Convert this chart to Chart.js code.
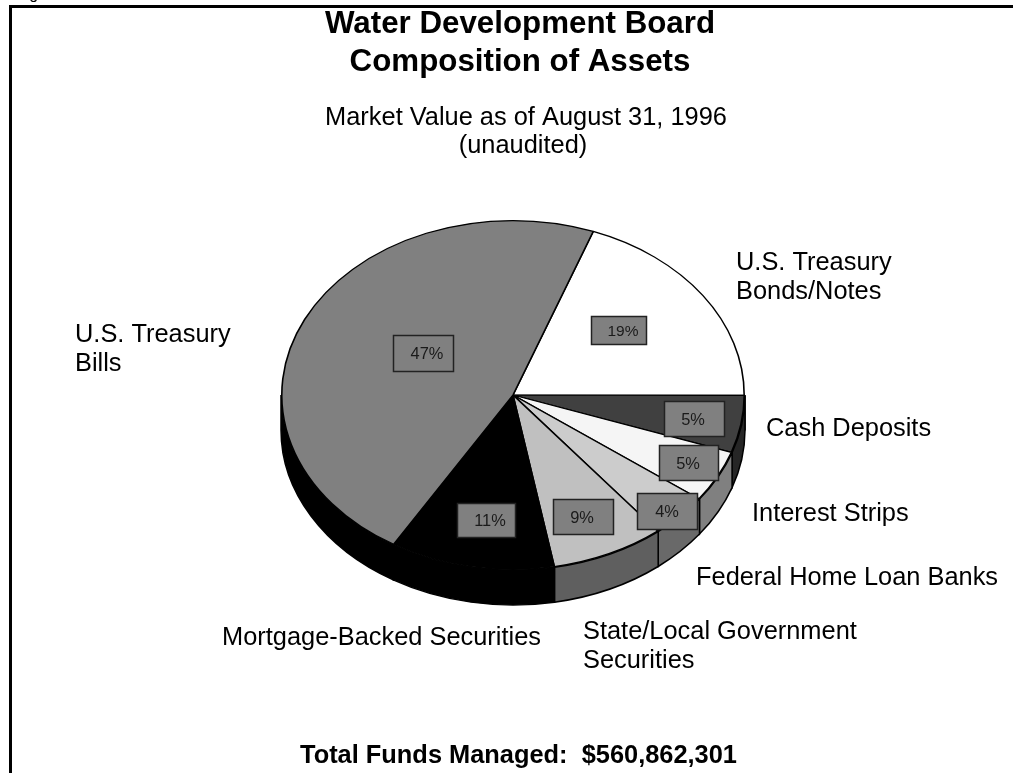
<!DOCTYPE html>
<html>
<head>
<meta charset="utf-8">
<style>html,body{margin:0;padding:0;background:#fff;overflow:hidden}canvas{display:block}</style>
<script src="https://cdn.jsdelivr.net/npm/chart.js@4/dist/chart.umd.min.js"></script>
</head>
<body>
<canvas id="c" width="1013" height="773"></canvas>
<script>
const categories = ['U.S. Treasury Bonds/Notes','Cash Deposits','Interest Strips','Federal Home Loan Banks','State/Local Government Securities','Mortgage-Backed Securities','U.S. Treasury Bills'];
const sliceShares = [19.4,5.3,4.8,4.1,7.9,11.5,47.0];
const printedPercents = ['19%','5%','5%','4%','9%','11%','47%'];
const topColors = ['#ffffff','#404040','#f5f5f5','#cccccc','#c0c0c0','#000000','#808080'];
const wallColors = ['#c0c0c0','#262626','#808080','#696969','#5f5f5f','#000000','#000000'];
const titleLines = ['Water Development Board','Composition of Assets'];
const subtitleLines = ['Market Value as of August 31, 1996','(unaudited)'];
const footerText = 'Total Funds Managed:  $560,862,301';

const CX=513, CY=395, RX=232, RY=175, DEPTH=35, FONT='"Liberation Sans", Arial, sans-serif';
// x0,y0,x1,y1 of each percent box, text centre x, font size (same order as categories)
const percentBoxes = [[591,316,647,345,623,15.5],[664,401,725,437,693,16.4],[659,445,719,481,688,16.4],[637,493,698,530,667,16.4],[553,499,614,535,582,16.4],[457,503,516,538,490,16.4],[393,335,454,372,427,16.4]];
const sliceLabels = [
 [736,270,'U.S. Treasury'],[736,299,'Bonds/Notes'],[75,342,'U.S. Treasury'],[75,371,'Bills'],
 [766,436,'Cash Deposits'],[752,521,'Interest Strips'],[696,585,'Federal Home Loan Banks'],
 [583,639,'State/Local Government'],[583,668,'Securities'],[222,645,'Mortgage-Backed Securities']];

const piePlugin = {
  id:'pie3d',
  beforeDatasetsDraw(chart){
    const ctx=chart.ctx, arcs=chart.getDatasetMeta(0).data, T=Math.PI*2;
    ctx.save();
    ctx.fillStyle='#000';
    ctx.fillRect(9,5,1004,3);
    ctx.fillRect(9,5,3,768);
    ctx.font='16px '+FONT; ctx.textAlign='left'; ctx.textBaseline='alphabetic';
    ctx.fillText('Figure',16,-1);
    ctx.strokeStyle='#000'; ctx.lineWidth=1.5;
    arcs.forEach((a,i)=>{
      const p=a.getProps(['startAngle','endAngle']);
      for(let k=-1;k<=2;k++){
        const s=Math.max(p.startAngle,k*T), e=Math.min(p.endAngle,k*T+Math.PI);
        if(e<=s) continue;
        ctx.beginPath();
        ctx.ellipse(CX,CY,RX,RY,0,s,e);
        ctx.ellipse(CX,CY+DEPTH,RX,RY,0,e,s,true);
        ctx.closePath();
        ctx.fillStyle=wallColors[i]; ctx.fill(); ctx.stroke();
      }
    });
    ctx.restore();
    ctx.save();
    ctx.translate(0,CY); ctx.scale(1,RY/RX); ctx.translate(0,-CY);
  },
  afterDatasetsDraw(chart){
    const ctx=chart.ctx;
    ctx.restore();
    ctx.save();
    ctx.textBaseline='alphabetic'; ctx.textAlign='center'; ctx.fillStyle='#000';
    ctx.font='bold 31.3px '+FONT;
    ctx.fillText(titleLines[0],520,33); ctx.fillText(titleLines[1],520,71);
    ctx.font='25.4px '+FONT;
    ctx.fillText(subtitleLines[0],526,125); ctx.fillText(subtitleLines[1],523,153);
    ctx.font='bold 25.4px '+FONT;
    ctx.fillText(footerText,518.5,763);
    ctx.textAlign='left'; ctx.font='25.4px '+FONT;
    sliceLabels.forEach(l=>ctx.fillText(l[2],l[0],l[1]));
    ctx.textAlign='center';
    printedPercents.forEach((t,i)=>{
      const b=percentBoxes[i];
      ctx.fillStyle='#808080'; ctx.fillRect(b[0],b[1],b[2]-b[0],b[3]-b[1]);
      ctx.strokeStyle='#222'; ctx.lineWidth=1.5;
      ctx.strokeRect(b[0]+.5,b[1]+.5,b[2]-b[0]-1,b[3]-b[1]-1);
      ctx.fillStyle='#1a1a1a'; ctx.font=b[5]+'px '+FONT;
      ctx.fillText(t,b[4],(b[1]+b[3])/2+b[5]*.36);
    });
    ctx.restore();
  }
};

new Chart(document.getElementById('c'),{
  type:'pie',
  data:{labels:categories,datasets:[{data:sliceShares,backgroundColor:topColors,borderColor:'#000',borderWidth:1.6,clip:false,hoverOffset:0}]},
  options:{
    responsive:false,animation:false,rotation:20.3,
    events:[],
    layout:{padding:{left:CX-RX,right:1013-CX-RX,top:CY-RX,bottom:773-CY-RX}},
    plugins:{legend:{display:false},tooltip:{enabled:false},title:{display:false}}
  },
  plugins:[piePlugin]
});
</script>
</body>
</html>
